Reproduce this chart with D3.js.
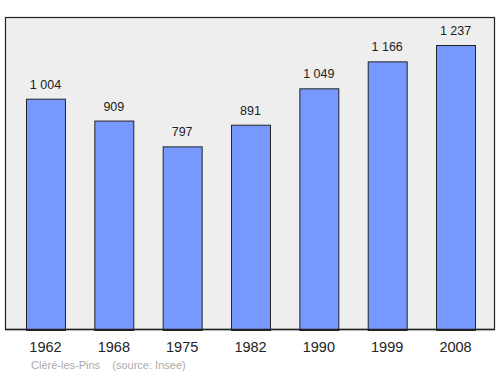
<!DOCTYPE html>
<html>
<head>
<meta charset="utf-8">
<script src="https://cdn.jsdelivr.net/npm/d3@7"></script>
<style>
  body { margin: 0; background: #fff; }
  svg { display: block; font-family: "Liberation Sans", Arial, sans-serif; }
</style>
</head>
<body>
<svg width="500" height="374"></svg>
<script>
var years = ['1962', '1968', '1975', '1982', '1990', '1999', '2008']
var population = [1004, 909, 797, 891, 1049, 1166, 1237]
var labels = ['1 004', '909', '797', '891', '1 049', '1 166', '1 237']

var svg = d3.select('svg')

// plot frame
svg.append('rect')
    .attr('x', 5.5)
    .attr('y', 17.5)
    .attr('width', 489)
    .attr('height', 312)
    .attr('fill', '#eeeeee')
    .attr('stroke', '#222')
    .attr('stroke-width', 1.2)

var x = d3.scaleBand()
    .domain(years)
    .range([11.3, 489.7])
    .paddingInner(0.43)
    .paddingOuter(0.215)

var y = d3.scaleLinear()
    .domain([0, 1237])
    .range([330, 45])

var data = years.map(function(d, i) {
  return { year: d, value: population[i], label: labels[i] }
})

svg.selectAll('rect.bar')
    .data(data)
    .enter()
    .append('rect')
    .attr('class', 'bar')
    .attr('x', function(d) { return x(d.year) + 0.5 })
    .attr('y', function(d) { return y(d.value) + 0.5 })
    .attr('width', x.bandwidth())
    .attr('height', function(d) { return 330 - y(d.value) })
    .attr('fill', '#7799ff')
    .attr('stroke', '#222')
    .attr('stroke-width', 1)

svg.selectAll('text.val')
    .data(data)
    .enter()
    .append('text')
    .attr('class', 'val')
    .attr('x', function(d) { return x(d.year) + x.bandwidth() / 2 })
    .attr('y', function(d) { return y(d.value) - 10 })
    .attr('text-anchor', 'middle')
    .attr('font-size', '12.5px')
    .attr('fill', '#222')
    .text(function(d) { return d.label })

// redraw bottom edge over bars
svg.append('line')
    .attr('x1', 5).attr('x2', 495)
    .attr('y1', 329.5).attr('y2', 329.5)
    .attr('stroke', '#222')
    .attr('stroke-width', 1.5)

var xAxis = d3.axisBottom(x).tickSize(0).tickPadding(0)
var gx = svg.append('g')
    .attr('transform', 'translate(0,341)')
    .call(xAxis)
gx.select('.domain').remove()
gx.selectAll('text')
    .attr('font-size', '14.5px')
    .attr('font-family', '"Liberation Sans", Arial, sans-serif')
    .attr('fill', '#222')
    .attr('dy', '0.75em')

svg.append('text')
    .attr('x', 31)
    .attr('y', 369)
    .attr('font-size', '11px')
    .attr('fill', '#aaa')
    .attr('xml:space', 'preserve')
    .style('white-space', 'pre')
    .text('Cléré-les-Pins    (source: Insee)')
</script>
</body>
</html>
